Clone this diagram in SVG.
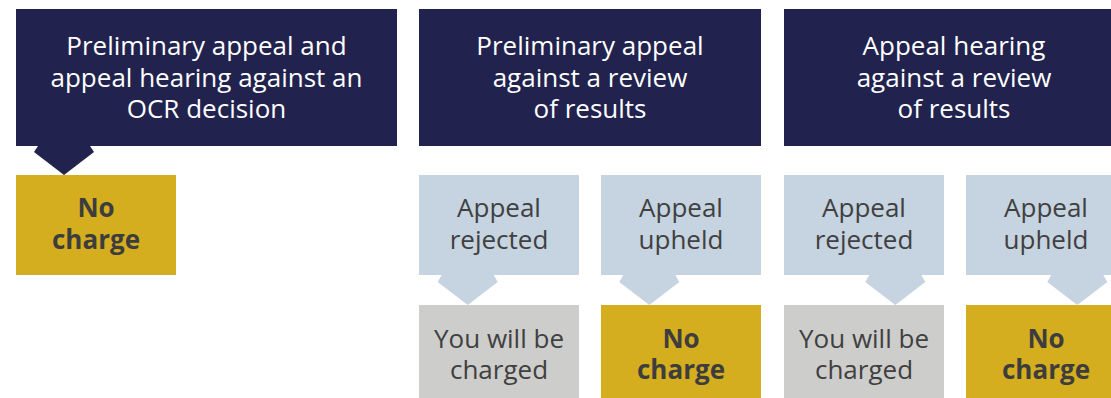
<svg xmlns="http://www.w3.org/2000/svg" width="1111" height="398" viewBox="0 0 1111 398">
<style>
.hdr{fill:#21224e}
.blue{fill:#c6d3e0}
.gold{fill:#d5ae1f}
.grey{fill:#cdcdcc}
text{font-family:"Open Sans","Noto Sans","Liberation Sans",sans-serif;font-size:26px;text-anchor:middle}
.wt{fill:#ffffff}
.dt{fill:#404040}
.bt{fill:#3d3d3d;font-weight:700}
</style>
<rect width="1111" height="398" fill="#ffffff"/>
<g id="connectors">
<polygon class="hdr" points="38,146 90,146 94,152 64,175 34,152"/>
<polygon class="blue" points="441.7,275 493.7,275 497.7,282 467.7,305 437.7,282"/>
<polygon class="blue" points="623.3,275 675.3,275 679.3,282 649.3,305 619.3,282"/>
<polygon class="blue" points="869.3,275 921.3,275 925.3,282 895.3,305 865.3,282"/>
<polygon class="blue" points="1051.3,275 1103.3,275 1107.3,282 1077.3,305 1047.3,282"/>
</g>
<g id="header1">
<rect class="hdr" x="16" y="9" width="381" height="137"/>
<text class="wt" x="206.5" y="55">Preliminary appeal and</text>
<text class="wt" x="206.5" y="86.5">appeal hearing against an</text>
<text class="wt" x="206.5" y="118">OCR decision</text>
</g>
<g id="header2">
<rect class="hdr" x="419" y="9" width="342" height="137"/>
<text class="wt" x="590" y="55">Preliminary appeal</text>
<text class="wt" x="590" y="86.5">against a review</text>
<text class="wt" x="590" y="118">of results</text>
</g>
<g id="header3">
<rect class="hdr" x="784" y="9" width="342" height="137"/>
<text class="wt" x="954" y="55">Appeal hearing</text>
<text class="wt" x="954" y="86.5">against a review</text>
<text class="wt" x="954" y="118">of results</text>
</g>
<g id="nocharge1">
<rect class="gold" x="16" y="175" width="160" height="100"/>
<text class="bt" x="96" y="217">No</text>
<text class="bt" x="96" y="248.5">charge</text>
</g>
<g id="rejected2">
<rect class="blue" x="419" y="175" width="160" height="100"/>
<text class="dt" x="499" y="217">Appeal</text>
<text class="dt" x="499" y="248.5">rejected</text>
</g>
<g id="upheld2">
<rect class="blue" x="601" y="175" width="160" height="100"/>
<text class="dt" x="681" y="217">Appeal</text>
<text class="dt" x="681" y="248.5">upheld</text>
</g>
<g id="rejected3">
<rect class="blue" x="784" y="175" width="160" height="100"/>
<text class="dt" x="864" y="217">Appeal</text>
<text class="dt" x="864" y="248.5">rejected</text>
</g>
<g id="upheld3">
<rect class="blue" x="966" y="175" width="160" height="100"/>
<text class="dt" x="1046" y="217">Appeal</text>
<text class="dt" x="1046" y="248.5">upheld</text>
</g>
<g id="charged2">
<rect class="grey" x="419" y="305" width="160" height="100"/>
<text class="dt" x="499" y="347.5">You will be</text>
<text class="dt" x="499" y="379">charged</text>
</g>
<g id="nocharge2">
<rect class="gold" x="601" y="305" width="160" height="100"/>
<text class="bt" x="681" y="347.5">No</text>
<text class="bt" x="681" y="379">charge</text>
</g>
<g id="charged3">
<rect class="grey" x="784" y="305" width="160" height="100"/>
<text class="dt" x="864" y="347.5">You will be</text>
<text class="dt" x="864" y="379">charged</text>
</g>
<g id="nocharge3">
<rect class="gold" x="966" y="305" width="160" height="100"/>
<text class="bt" x="1046" y="347.5">No</text>
<text class="bt" x="1046" y="379">charge</text>
</g>
</svg>
